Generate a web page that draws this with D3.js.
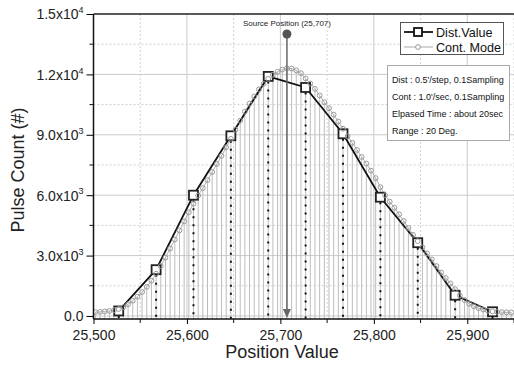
<!DOCTYPE html>
<html>
<head>
<meta charset="utf-8">
<script src="https://cdn.jsdelivr.net/npm/d3@7"></script>
<style>
  body { margin: 0; background: #fff; }
  svg { display: block; font-family: "Liberation Sans", Arial, sans-serif; }
</style>
</head>
<body>
<svg id="chart" width="514" height="365"></svg>
<script>
// Dist. value: one reading every 40 position units
const distPos = [25527, 25567, 25607, 25647, 25687, 25727, 25767, 25807, 25847, 25887, 25927];
const distVal = [250, 2300, 6000, 8950, 11900, 11350, 9050, 5900, 3640, 1030, 210];

// Cont. mode samples
const contPos = [25502, 25507, 25512, 25517, 25522, 25527, 25532, 25537, 25542, 25547,
  25552, 25557, 25562, 25567, 25572, 25577, 25582, 25587, 25592, 25597,
  25602, 25607, 25612, 25617, 25622, 25627, 25632, 25637, 25642, 25647,
  25652, 25657, 25662, 25667, 25672, 25677, 25682, 25687, 25692, 25697,
  25702, 25707, 25712, 25717, 25722, 25727, 25732, 25737, 25742, 25747,
  25752, 25757, 25762, 25767, 25772, 25777, 25782, 25787, 25792, 25797,
  25802, 25807, 25812, 25817, 25822, 25827, 25832, 25837, 25842, 25847,
  25852, 25857, 25862, 25867, 25872, 25877, 25882, 25887, 25892, 25897,
  25902, 25907, 25912, 25917, 25922, 25927, 25932, 25937, 25942, 25947];
const contVal = [190, 205, 225, 250, 290, 350, 440, 580, 760, 960,
  1190, 1450, 1750, 2100, 2480, 2900, 3350, 3800, 4250, 4700,
  5150, 5580, 5980, 6350, 6750, 7150, 7550, 7950, 8380, 8800,
  9250, 9700, 10150, 10550, 10900, 11250, 11530, 11780, 11980, 12130,
  12240, 12300, 12290, 12200, 12060, 11800, 11550, 11280, 10950, 10620,
  10320, 10000, 9660, 9300, 8930, 8600, 8250, 7900, 7570, 7220,
  6850, 6400, 6000, 5680, 5380, 5050, 4720, 4370, 4030, 3720,
  3410, 3110, 2810, 2480, 2160, 1880, 1620, 1330, 1020, 790,
  610, 480, 390, 320, 265, 230, 205, 190, 180, 175];

const sourcePos = 25707;

const xMajor = [25500, 25600, 25700, 25800, 25900];
const xMinor = [25550, 25650, 25750, 25850, 25950];
const xLabels = ["25,500", "25,600", "25,700", "25,800", "25,900"];
const yMajor = [0, 3000, 6000, 9000, 12000, 15000];
const yMinor = [1500, 4500, 7500, 10500, 13500];
const yLabels = [["0.0", ""], ["3.0x10", "3"], ["6.0x10", "3"], ["9.0x10", "3"], ["1.2x10", "4"], ["1.5x10", "4"]];

const infoLines = ["Dist : 0.5'/step, 0.1Sampling", "Cont : 1.0'/sec, 0.1Sampling",
  "Elpased Time : about 20sec", "Range : 20 Deg."];

const svg = d3.select("#chart");
const pLeft = 93.5, pRight = 514, pTop = 14, pBottom = 319;

const x = d3.scaleLinear().domain([25500, 25950]).range([pLeft, pRight]);
const y = d3.scaleLinear().domain([-150, 15000]).range([pBottom, pTop]);

svg.append("defs").append("clipPath").attr("id", "plot")
  .append("rect").attr("x", pLeft).attr("y", pTop).attr("width", pRight - pLeft).attr("height", pBottom - pTop);

// grid
const grid = svg.append("g");
grid.append("g").selectAll("line").data(yMajor.slice(0, -1)).join("line")
  .attr("x1", pLeft).attr("x2", pRight).attr("y1", d => y(d)).attr("y2", d => y(d))
  .attr("stroke", "#cacaca").attr("stroke-width", 1);
grid.append("g").selectAll("line").data(yMinor).join("line")
  .attr("x1", pLeft).attr("x2", pRight).attr("y1", d => y(d)).attr("y2", d => y(d))
  .attr("stroke", "#d0d0d0").attr("stroke-dasharray", "2,2");
grid.append("g").selectAll("line").data(xMajor.slice(1)).join("line")
  .attr("x1", d => x(d)).attr("x2", d => x(d)).attr("y1", pTop).attr("y2", pBottom)
  .attr("stroke", "#cacaca").attr("stroke-width", 1);
grid.append("g").selectAll("line").data(xMinor).join("line")
  .attr("x1", d => x(d)).attr("x2", d => x(d)).attr("y1", pTop).attr("y2", pBottom)
  .attr("stroke", "#d0d0d0").attr("stroke-dasharray", "2,2");

const plot = svg.append("g").attr("clip-path", "url(#plot)");
const cont = contPos.map((p, i) => [p, contVal[i]]);
const dist = distPos.map((p, i) => [p, distVal[i]]);

// drop lines under the continuous samples
plot.append("g").selectAll("line").data(cont).join("line")
  .attr("x1", d => x(d[0])).attr("x2", d => x(d[0]))
  .attr("y1", d => y(d[1])).attr("y2", pBottom)
  .attr("stroke", "#bdbdbd").attr("stroke-width", 1);

// dotted drop lines under the dist values
plot.append("g").selectAll("line").data(dist).join("line")
  .attr("x1", d => x(d[0])).attr("x2", d => x(d[0]))
  .attr("y1", d => y(d[1]) + 5).attr("y2", pBottom)
  .attr("stroke", "#111").attr("stroke-width", 2).attr("stroke-dasharray", "2,6");

// source position marker
const sx = x(sourcePos);
const src = svg.append("g");
src.append("line").attr("x1", sx).attr("x2", sx).attr("y1", 34).attr("y2", 310)
  .attr("stroke", "#666").attr("stroke-width", 1.5);
src.append("path").attr("d", `M${sx - 4},309L${sx + 4},309L${sx},318Z`).attr("fill", "#666");
src.append("circle").attr("cx", sx).attr("cy", 34).attr("r", 4.5).attr("fill", "#555");
src.append("text").attr("x", sx).attr("y", 26).attr("text-anchor", "middle")
  .attr("font-size", 8).attr("fill", "#222").text("Source Position (25,707)");

// cont line + dist line
plot.append("path").datum(cont)
  .attr("d", d3.line().x(d => x(d[0])).y(d => y(d[1])))
  .attr("fill", "none").attr("stroke", "#b0b0b0").attr("stroke-width", 1);
plot.append("path").datum(dist)
  .attr("d", d3.line().x(d => x(d[0])).y(d => y(d[1])))
  .attr("fill", "none").attr("stroke", "#111").attr("stroke-width", 1.8);
plot.append("g").selectAll("rect").data(dist).join("rect")
  .attr("x", d => x(d[0]) - 4.5).attr("y", d => y(d[1]) - 4.5)
  .attr("width", 9).attr("height", 9)
  .attr("fill", "#fff").attr("stroke", "#222").attr("stroke-width", 1.8);
plot.append("g").selectAll("circle").data(cont).join("circle")
  .attr("cx", d => x(d[0])).attr("cy", d => y(d[1])).attr("r", 2.4)
  .attr("fill", "none").attr("stroke", "#9a9a9a").attr("stroke-width", 1);

// axes
const xAxis = d3.axisBottom(x).tickValues(xMajor).tickSize(5).tickPadding(6)
  .tickFormat((d, i) => xLabels[i]);
const gx = svg.append("g").attr("transform", `translate(0,${pBottom})`).call(xAxis);
gx.append("g").selectAll("line").data(xMinor).join("line")
  .attr("x1", d => x(d)).attr("x2", d => x(d)).attr("y1", 0).attr("y2", 4)
  .attr("stroke", "#111");
gx.select(".domain").attr("stroke", "#111").attr("stroke-width", 1.5).attr("d", `M${pLeft},0H${pRight}`);
gx.selectAll("text").attr("font-size", 14).attr("fill", "#222");
gx.attr("font-family", null);

const yAxis = d3.axisLeft(y).tickValues(yMajor).tickSize(7).tickPadding(4).tickFormat("");
const gy = svg.append("g").attr("transform", `translate(${pLeft},0)`).call(yAxis);
gy.attr("font-family", null);
gy.append("g").selectAll("line").data(yMinor).join("line")
  .attr("x1", -4).attr("x2", 0).attr("y1", d => y(d)).attr("y2", d => y(d))
  .attr("stroke", "#111");
gy.select(".domain").attr("stroke", "#111").attr("stroke-width", 1.5).attr("d", `M0,${pTop}V${pBottom}`);
gy.selectAll(".tick text").each(function (d, i) {
  const t = d3.select(this).attr("font-size", 14).attr("fill", "#222")
    .attr("x", -10).attr("dy", "0.35em");
  t.append("tspan").text(yLabels[i][0]);
  if (yLabels[i][1]) t.append("tspan").attr("font-size", 9).attr("dy", "-0.7em").text(yLabels[i][1]);
});

// top frame
svg.append("line").attr("x1", pLeft).attr("x2", pRight).attr("y1", pTop).attr("y2", pTop)
  .attr("stroke", "#222").attr("stroke-width", 1.5);

// axis titles
svg.append("text").attr("x", 282).attr("y", 358).attr("text-anchor", "middle")
  .attr("font-size", 18).attr("fill", "#222").text("Position Value");
svg.append("text").attr("transform", "translate(24,170) rotate(-90)").attr("text-anchor", "middle")
  .attr("font-size", 18).attr("fill", "#222").text("Pulse Count (#)");

// legend
const lg = svg.append("g");
lg.append("rect").attr("x", 400.5).attr("y", 22.5).attr("width", 103).attr("height", 32)
  .attr("fill", "#fff").attr("stroke", "#555");
lg.append("line").attr("x1", 404).attr("x2", 433).attr("y1", 32).attr("y2", 32)
  .attr("stroke", "#111").attr("stroke-width", 1.8);
lg.append("rect").attr("x", 414).attr("y", 28).attr("width", 8).attr("height", 8)
  .attr("fill", "#fff").attr("stroke", "#111").attr("stroke-width", 1.8);
lg.append("text").attr("x", 436).attr("y", 36.5).attr("font-size", 12.6).attr("fill", "#111").text("Dist.Value");
lg.append("line").attr("x1", 404).attr("x2", 433).attr("y1", 47).attr("y2", 47)
  .attr("stroke", "#aaa").attr("stroke-width", 1);
lg.append("circle").attr("cx", 418).attr("cy", 47).attr("r", 2.4)
  .attr("fill", "#fff").attr("stroke", "#999");
lg.append("text").attr("x", 436).attr("y", 51.5).attr("font-size", 12.6).attr("fill", "#111").text("Cont. Mode");

// info box
const ib = svg.append("g");
ib.append("rect").attr("x", 387.5).attr("y", 65.5).attr("width", 122).attr("height", 75)
  .attr("fill", "#fff").attr("stroke", "#aaa");
ib.selectAll("text").data(infoLines).join("text")
  .attr("x", 392).attr("y", (d, i) => 82.5 + i * 17)
  .attr("font-size", 9).attr("fill", "#111").text(d => d);
</script>
</body>
</html>
